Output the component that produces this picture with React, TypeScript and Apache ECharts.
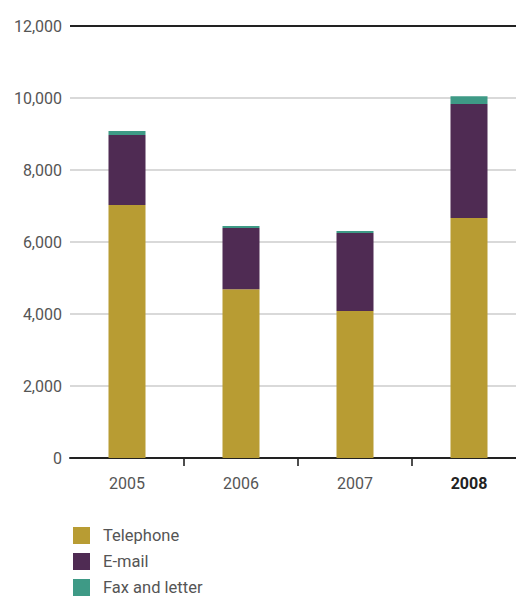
import React, { useEffect, useRef } from "react";
import * as echarts from "echarts";

const years = ["2005", "2006", "2007", "2008"];
const telephone = [7030, 4690, 4080, 6670];
const email = [1940, 1700, 2170, 3160];
const fax = [110, 55, 55, 220];
const yTicks = [0, 2000, 4000, 6000, 8000, 10000, 12000];

export default function App() {
  const ref = useRef<HTMLDivElement>(null);
  useEffect(() => {
    if (!ref.current) return;
    const chart = echarts.init(ref.current, null, { renderer: "svg" });
    const font = "Roboto, 'DejaVu Sans', sans-serif";
    const boundaries = years.slice(1).map((_, i) => [i + 1, 0]);
    chart.setOption({
      animation: false,
      textStyle: { fontFamily: font },
      grid: { left: 70, top: 26, right: 0, height: 432, containLabel: false },
      legend: {
        orient: "vertical",
        left: 73,
        top: 527,
        padding: 0,
        itemWidth: 17,
        itemHeight: 17,
        itemGap: 9,
        icon: "rect",
        textStyle: { fontSize: 16.5, lineHeight: 16, color: "#555", padding: [0, 0, 0, 8], fontFamily: font },
        data: ["Telephone", "E-mail", "Fax and letter"],
      },
      xAxis: [
        {
          type: "category",
          data: years,
          axisLine: { lineStyle: { color: "#222", width: 2 } },
          axisTick: { show: false },
          axisLabel: {
            margin: 17,
            fontSize: 16,
            color: "#555",
            fontFamily: font,
            formatter: (v: string) => (v === "2008" ? "{b|" + v + "}" : v),
            rich: { b: { fontWeight: "bold", color: "#222", fontSize: 16, fontFamily: font } },
          },
        },
        {
          type: "value",
          position: "bottom",
          min: 0,
          max: years.length,
          interval: 1,
          show: false,
        },
      ],
      yAxis: {
        type: "value",
        min: yTicks[0],
        max: yTicks[yTicks.length - 1],
        interval: 2000,
        axisLine: { show: false },
        axisTick: { show: false },
        axisLabel: {
          margin: 8,
          fontSize: 16,
          color: "#555",
          fontFamily: font,
          formatter: (v: number) => v.toLocaleString("en-US"),
        },
        splitLine: { lineStyle: { color: "#cccccc", width: 1.5 } },
      },
      series: [
        {
          name: "Telephone",
          type: "bar",
          stack: "a",
          data: telephone,
          barWidth: 37,
          itemStyle: { color: "#B89C33" },
          markLine: {
            silent: true,
            symbol: "none",
            label: { show: false },
            lineStyle: { color: "#222", width: 2, type: "solid" },
            data: [{ yAxis: yTicks[yTicks.length - 1] }],
          },
        },
        { name: "E-mail", type: "bar", stack: "a", data: email, barWidth: 37, itemStyle: { color: "#4F2B53" } },
        { name: "Fax and letter", type: "bar", stack: "a", data: fax, barWidth: 37, itemStyle: { color: "#3E9A86" } },
        {
          name: "ticks",
          type: "scatter",
          xAxisIndex: 1,
          data: boundaries,
          symbol: "rect",
          symbolSize: [2, 7],
          symbolOffset: [0, 4.5],
          clip: false,
          silent: true,
          z: 10,
          itemStyle: { color: "#222" },
        },
      ],
    });
    return () => chart.dispose();
  }, []);
  return (
    <div style={{ position: "fixed", left: 0, top: 0, width: 516, height: 596, overflow: "hidden", background: "#fff" }}>
      <div ref={ref} style={{ width: 526, height: 640 }} />
    </div>
  );
}
